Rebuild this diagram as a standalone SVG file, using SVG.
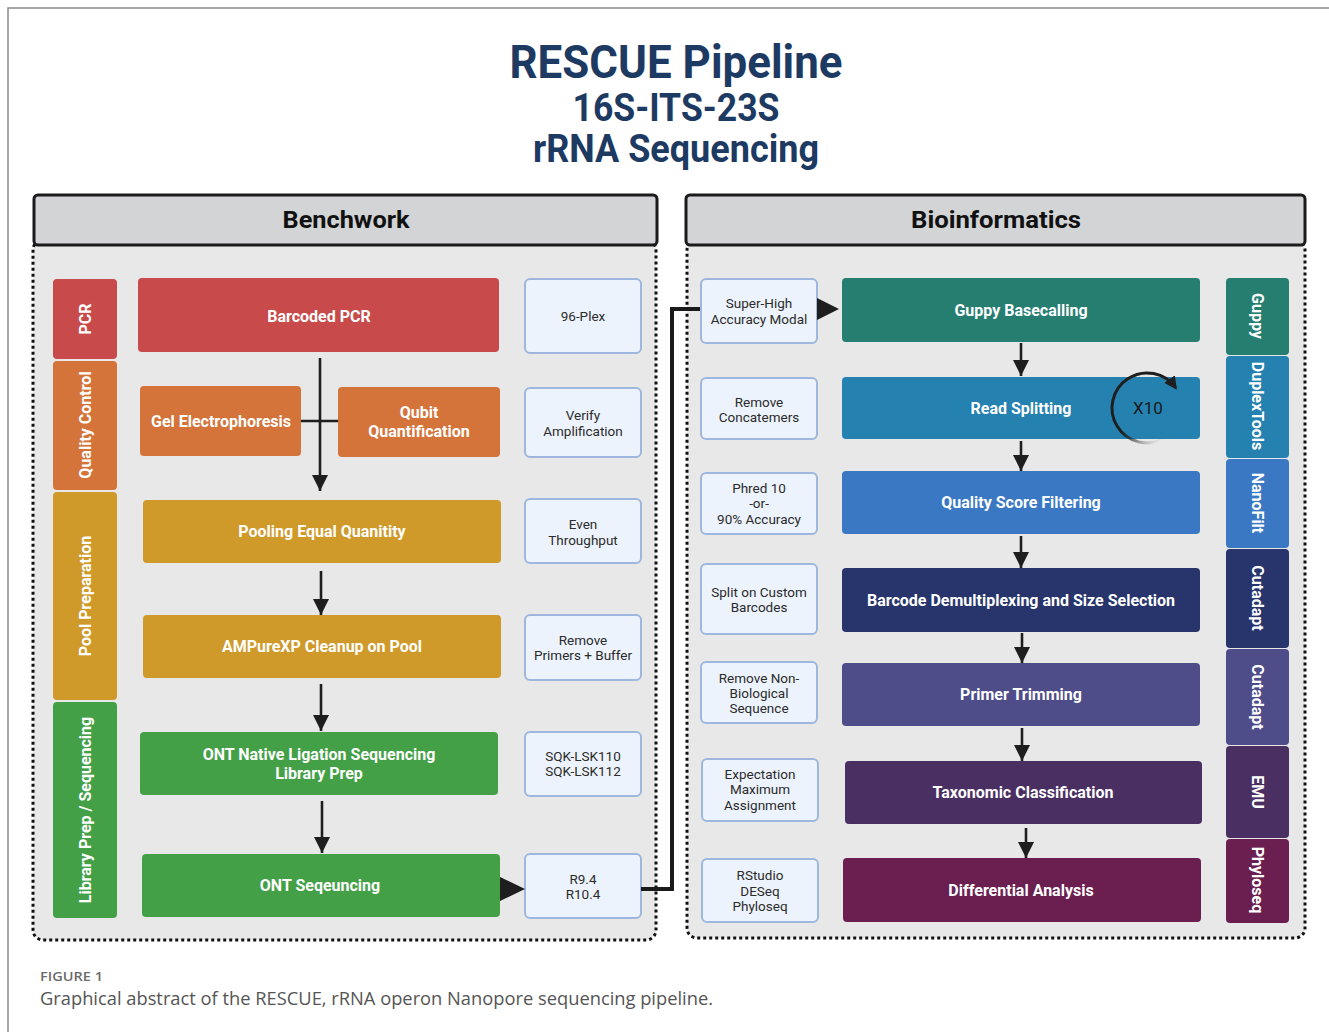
<svg xmlns="http://www.w3.org/2000/svg" width="1329" height="1032" viewBox="0 0 1329 1032">
<defs>
<style>
text{font-family:Roboto,'Liberation Sans',sans-serif}
.title{font-weight:700;fill:#1d3a63;text-anchor:middle}
.hdr{fill:#d2d4d6;stroke:#1b1b1b;stroke-width:3}
.hdrt{font-size:24px;font-weight:700;fill:#111;text-anchor:middle}
.panel{fill:#e8e8e8;stroke:#111;stroke-width:3;stroke-dasharray:3 3}
.mt{font-size:16px;font-weight:700;fill:#fff;text-anchor:middle}
.note rect{fill:#edf3fc;stroke:#9db7df;stroke-width:2}
.nt{font-size:13.5px;fill:#2b2b2b;text-anchor:middle}
.side{font-size:16px;font-weight:700;fill:#fff;text-anchor:middle}
.arr{stroke:#1e1e1e;stroke-width:2.6;fill:none}
.link{stroke:#1a1a1a;stroke-width:4;fill:none}
.cap{font-family:'Open Sans','Noto Sans',sans-serif}
</style>
<marker id="ah" viewBox="0 0 16 16" refX="16" refY="8" markerWidth="16" markerHeight="16" markerUnits="userSpaceOnUse" orient="auto">
<path d="M0,0L16,8L0,16z" fill="#1e1e1e"/>
</marker>
<marker id="ah2" viewBox="0 0 12 12" refX="10" refY="6" markerWidth="13" markerHeight="13" markerUnits="userSpaceOnUse" orient="auto">
<path d="M0,0L12,6L0,12z" fill="#1e1e1e"/>
</marker>
<linearGradient id="fade" gradientUnits="userSpaceOnUse" x1="1150" y1="413" x2="1166" y2="437">
<stop offset="0" stop-color="#1e1e1e" stop-opacity="1"/>
<stop offset="1" stop-color="#1e1e1e" stop-opacity="0"/>
</linearGradient>
</defs>

<rect width="1329" height="1032" fill="#fff"/>
<path d="M8,1032V8H1329" fill="none" stroke="#8a8a8a" stroke-width="1.5"/>

<!-- title -->
<g id="title">
<text class="title" x="676" y="78" font-size="46" textLength="333" lengthAdjust="spacingAndGlyphs">RESCUE Pipeline</text>
<text class="title" x="676" y="121" font-size="38" textLength="207" lengthAdjust="spacingAndGlyphs">16S-ITS-23S</text>
<text class="title" x="676" y="162" font-size="38" textLength="286" lengthAdjust="spacingAndGlyphs">rRNA Sequencing</text>
</g>

<!-- panels -->
<g id="panel-bench">
<rect class="panel" x="33" y="240" width="623" height="700" rx="10"/>
<rect class="hdr" x="34" y="195" width="623" height="50" rx="4"/>
<text class="hdrt" x="346" y="228" textLength="127" lengthAdjust="spacingAndGlyphs">Benchwork</text>
</g>
<g id="panel-bioinf">
<rect class="panel" x="687" y="240" width="618" height="698" rx="10"/>
<rect class="hdr" x="686" y="195" width="619" height="50" rx="4"/>
<text class="hdrt" x="996" y="228" textLength="170" lengthAdjust="spacingAndGlyphs">Bioinformatics</text>
</g>

<!-- stage bars, benchwork -->
<g id="stage-pcr"><rect x="53" y="279" width="64" height="80" rx="4" fill="#c84a4b"/><text class="side" transform="translate(85,319) rotate(-90)" y="6">PCR</text></g>
<g id="stage-qc"><rect x="53" y="361" width="64" height="129" rx="4" fill="#d4733a"/><text class="side" transform="translate(85,425) rotate(-90)" y="6">Quality Control</text></g>
<g id="stage-pool"><rect x="53" y="492" width="64" height="208" rx="4" fill="#cf9a2a"/><text class="side" transform="translate(85,596) rotate(-90)" y="6">Pool Preparation</text></g>
<g id="stage-lib"><rect x="53" y="702" width="64" height="216" rx="4" fill="#43a047"/><text class="side" transform="translate(85,810) rotate(-90)" y="6">Library Prep / Sequencing</text></g>

<!-- benchwork steps -->
<g id="barcoded-pcr"><rect x="138" y="278" width="361" height="74" rx="4" fill="#c84a4b"/><text class="mt" x="319" y="322">Barcoded PCR</text></g>
<g id="gel"><rect x="140" y="386" width="161" height="70" rx="4" fill="#d4733a"/><text class="mt" x="221" y="427">Gel Electrophoresis</text></g>
<g id="qubit"><rect x="338" y="387" width="162" height="70" rx="4" fill="#d4733a"/><text class="mt" x="419" y="418">Qubit</text><text class="mt" x="419" y="437">Quantification</text></g>
<g id="pooling"><rect x="143" y="500" width="358" height="63" rx="4" fill="#cf9a2a"/><text class="mt" x="322" y="537">Pooling Equal Quanitity</text></g>
<g id="ampure"><rect x="143" y="615" width="358" height="63" rx="4" fill="#cf9a2a"/><text class="mt" x="322" y="652">AMPureXP Cleanup on Pool</text></g>
<g id="ligation"><rect x="140" y="732" width="358" height="63" rx="4" fill="#43a047"/><text class="mt" x="319" y="760">ONT Native Ligation Sequencing</text><text class="mt" x="319" y="779">Library Prep</text></g>
<g id="ont-seq"><rect x="142" y="854" width="358" height="63" rx="4" fill="#43a047"/><text class="mt" x="320" y="891">ONT Seqeuncing</text></g>

<!-- benchwork notes -->
<g id="n-96plex" class="note"><rect x="525" y="279" width="116" height="74" rx="5"/><text class="nt" x="583" y="321">96-Plex</text></g>
<g id="n-verify" class="note"><rect x="525" y="388" width="116" height="69" rx="5"/><text class="nt" x="583" y="420">Verify</text><text class="nt" x="583" y="436">Amplification</text></g>
<g id="n-even" class="note"><rect x="525" y="499" width="116" height="64" rx="5"/><text class="nt" x="583" y="529">Even</text><text class="nt" x="583" y="545">Throughput</text></g>
<g id="n-remove" class="note"><rect x="525" y="615" width="116" height="65" rx="5"/><text class="nt" x="583" y="645">Remove</text><text class="nt" x="583" y="660">Primers + Buffer</text></g>
<g id="n-sqk" class="note"><rect x="525" y="732" width="116" height="64" rx="5"/><text class="nt" x="583" y="761">SQK-LSK110</text><text class="nt" x="583" y="776">SQK-LSK112</text></g>
<g id="n-flowcell" class="note"><rect x="525" y="854" width="116" height="64" rx="5"/><text class="nt" x="583" y="884">R9.4</text><text class="nt" x="583" y="899">R10.4</text></g>

<!-- bioinformatics notes -->
<g id="n-sup" class="note"><rect x="701" y="279" width="116" height="64" rx="5"/><text class="nt" x="759" y="308">Super-High</text><text class="nt" x="759" y="324">Accuracy Modal</text></g>
<g id="n-concat" class="note"><rect x="701" y="378" width="116" height="61" rx="5"/><text class="nt" x="759" y="407">Remove</text><text class="nt" x="759" y="422">Concatemers</text></g>
<g id="n-phred" class="note"><rect x="701" y="473" width="116" height="61" rx="5"/><text class="nt" x="759" y="493">Phred 10</text><text class="nt" x="759" y="508">-or-</text><text class="nt" x="759" y="524">90% Accuracy</text></g>
<g id="n-split" class="note"><rect x="701" y="564" width="116" height="70" rx="5"/><text class="nt" x="759" y="597">Split on Custom</text><text class="nt" x="759" y="612">Barcodes</text></g>
<g id="n-nonbio" class="note"><rect x="701" y="662" width="116" height="61" rx="5"/><text class="nt" x="759" y="683">Remove Non-</text><text class="nt" x="759" y="698">Biological</text><text class="nt" x="759" y="713">Sequence</text></g>
<g id="n-em" class="note"><rect x="702" y="759" width="116" height="62" rx="5"/><text class="nt" x="760" y="779">Expectation</text><text class="nt" x="760" y="794">Maximum</text><text class="nt" x="760" y="810">Assignment</text></g>
<g id="n-r" class="note"><rect x="702" y="859" width="116" height="63" rx="5"/><text class="nt" x="760" y="880">RStudio</text><text class="nt" x="760" y="896">DESeq</text><text class="nt" x="760" y="911">Phyloseq</text></g>

<!-- bioinformatics steps -->
<g id="guppy"><rect x="842" y="278" width="358" height="64" rx="4" fill="#267e71"/><text class="mt" x="1021" y="316">Guppy Basecalling</text></g>
<g id="read-split"><rect x="842" y="377" width="358" height="62" rx="4" fill="#2481b0"/><text class="mt" x="1021" y="414">Read Splitting</text>
<path d="M1164.5,438.3A35,35 0 1 1 1175.7,387.9" fill="none" stroke="url(#fade)" stroke-width="3" marker-end="url(#ah2)"/>
<text x="1148" y="414" font-size="17" fill="#1a1a1a" text-anchor="middle">X10</text></g>
<g id="qscore"><rect x="842" y="471" width="358" height="63" rx="4" fill="#3b78c3"/><text class="mt" x="1021" y="508">Quality Score Filtering</text></g>
<g id="demux"><rect x="842" y="568" width="358" height="64" rx="4" fill="#27356c"/><text class="mt" x="1021" y="606">Barcode Demultiplexing and Size Selection</text></g>
<g id="primer"><rect x="842" y="663" width="358" height="63" rx="4" fill="#4e4c89"/><text class="mt" x="1021" y="700">Primer Trimming</text></g>
<g id="taxon"><rect x="845" y="761" width="357" height="63" rx="4" fill="#4a2f62"/><text class="mt" x="1023" y="798">Taxonomic Classification</text></g>
<g id="diffan"><rect x="843" y="858" width="358" height="64" rx="4" fill="#6b1f51"/><text class="mt" x="1021" y="896">Differential Analysis</text></g>

<!-- tool bars, bioinformatics -->
<g id="tool-guppy"><rect x="1226" y="278" width="63" height="77" rx="4" fill="#267e71"/><text class="side" transform="translate(1258,316) rotate(90)" y="6">Guppy</text></g>
<g id="tool-duplex"><rect x="1226" y="356" width="63" height="102" rx="4" fill="#2481b0"/><text class="side" transform="translate(1258,406) rotate(90)" y="6">DuplexTools</text></g>
<g id="tool-nanofilt"><rect x="1226" y="459" width="63" height="89" rx="4" fill="#3b78c3"/><text class="side" transform="translate(1258,503) rotate(90)" y="6">NanoFilt</text></g>
<g id="tool-cutadapt1"><rect x="1226" y="549" width="63" height="99" rx="4" fill="#27356c"/><text class="side" transform="translate(1258,598) rotate(90)" y="6">Cutadapt</text></g>
<g id="tool-cutadapt2"><rect x="1226" y="649" width="63" height="96" rx="4" fill="#4e4c89"/><text class="side" transform="translate(1258,697) rotate(90)" y="6">Cutadapt</text></g>
<g id="tool-emu"><rect x="1226" y="746" width="63" height="92" rx="4" fill="#4a2f62"/><text class="side" transform="translate(1258,792) rotate(90)" y="6">EMU</text></g>
<g id="tool-phyloseq"><rect x="1226" y="839" width="63" height="84" rx="4" fill="#6b1f51"/><text class="side" transform="translate(1258,880) rotate(90)" y="6">Phyloseq</text></g>

<!-- connectors -->
<g id="connectors">
<line class="arr" x1="320" y1="358" x2="320" y2="491" marker-end="url(#ah)"/>
<line class="arr" x1="301" y1="421" x2="338" y2="421"/>
<line class="arr" x1="321" y1="571" x2="321" y2="615" marker-end="url(#ah)"/>
<line class="arr" x1="321" y1="684" x2="321" y2="731" marker-end="url(#ah)"/>
<line class="arr" x1="322" y1="801" x2="322" y2="853" marker-end="url(#ah)"/>
<polygon points="500,877 525,889 500,901" fill="#1e1e1e"/>
<path class="link" d="M641,889H672V309H700"/>
<polygon points="817,298 839,309 817,320" fill="#1e1e1e"/>
<line class="arr" x1="1021" y1="343" x2="1021" y2="376" marker-end="url(#ah)"/>
<line class="arr" x1="1021" y1="441" x2="1021" y2="471" marker-end="url(#ah)"/>
<line class="arr" x1="1021" y1="536" x2="1021" y2="568" marker-end="url(#ah)"/>
<line class="arr" x1="1022" y1="633" x2="1022" y2="663" marker-end="url(#ah)"/>
<line class="arr" x1="1022" y1="728" x2="1022" y2="761" marker-end="url(#ah)"/>
<line class="arr" x1="1026" y1="828" x2="1026" y2="858" marker-end="url(#ah)"/>
</g>

<!-- caption -->
<text class="cap" x="40" y="981" font-size="13" font-weight="600" fill="#6b6b6b" textLength="63" lengthAdjust="spacingAndGlyphs">FIGURE 1</text>
<text class="cap" x="40" y="1005" font-size="18" fill="#555" textLength="673" lengthAdjust="spacingAndGlyphs">Graphical abstract of the RESCUE, rRNA operon Nanopore sequencing pipeline.</text>
</svg>
